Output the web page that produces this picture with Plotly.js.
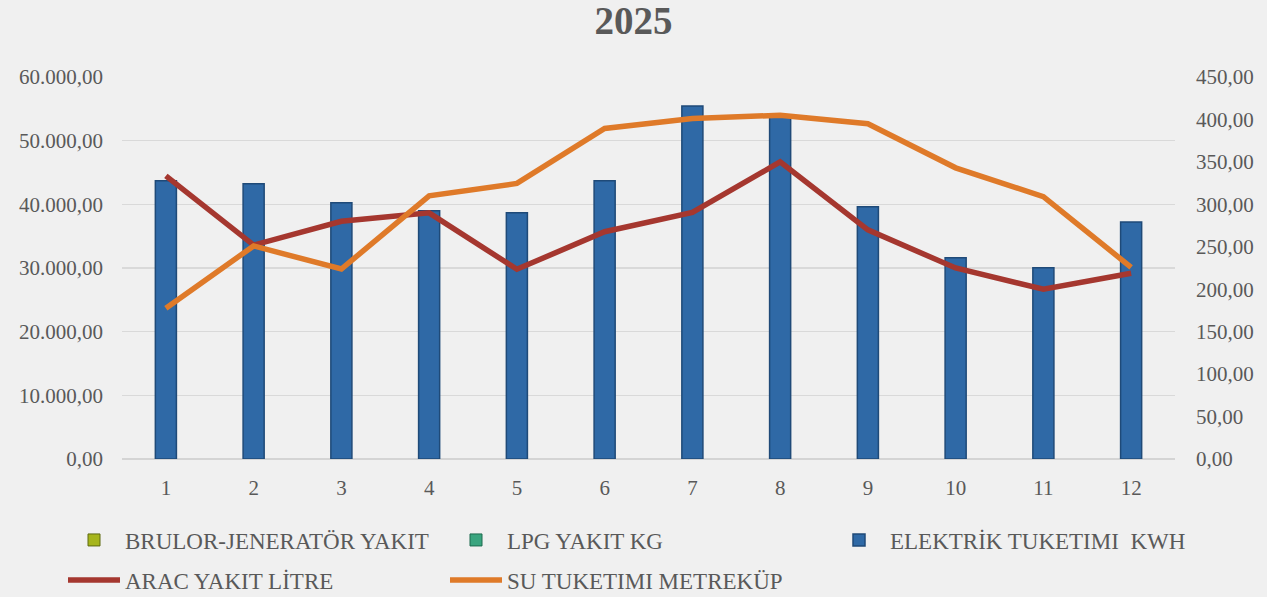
<!DOCTYPE html>
<html>
<head>
<meta charset="utf-8">
<script src="https://cdn.plot.ly/plotly-3.0.1.min.js"></script>
<style>
html,body{margin:0;padding:0;background:#f0f0f0;}
#chart{width:1267px;height:597px;}
</style>
</head>
<body>
<div id="chart"></div>
<script>
const months = ["1","2","3","4","5","6","7","8","9","10","11","12"];
const brulorYakit = [null,null,null,null,null,null,null,null,null,null,null,null];
const lpgYakit = [null,null,null,null,null,null,null,null,null,null,null,null];
const elektrikKwh = [43690,43220,40240,38990,38670,43690,55450,53900,39610,31620,30050,37210];
const aracYakit = [333.6,252,280,290,223.5,267.7,290.5,350,270,225,200,218.8];
const suTuketimi = [177.6,251,223.8,310,324.6,389.3,401,405,395,343,309,225.8];

const serif = "Liberation Serif, DejaVu Serif, serif";
const txt = '#595959';
const traces = [
  {type:'bar', name:'BRULOR-JENERATÖR YAKIT', x:months, y:brulorYakit, legend:'legend',
   marker:{color:'#a6b51c', line:{color:'#5e6a10', width:1}}, width:0.24},
  {type:'bar', name:'LPG YAKIT KG', x:months, y:lpgYakit, legend:'legend2',
   marker:{color:'#3aa57f', line:{color:'#1d6b4f', width:1}}, width:0.24},
  {type:'bar', name:'ELEKTRİK TUKETIMI  KWH', x:months, y:elektrikKwh, legend:'legend3',
   marker:{color:'#2f69a6', line:{color:'#1f4a78', width:1.5}}, width:0.24},
  {type:'scatter', mode:'lines', name:'ARAC YAKIT LİTRE', x:months, y:aracYakit, yaxis:'y2', legend:'legend4',
   line:{color:'#a5372f', width:5.5}},
  {type:'scatter', mode:'lines', name:'SU TUKETIMI METREKÜP', x:months, y:suTuketimi, yaxis:'y2', legend:'legend5',
   line:{color:'#df7a29', width:5.5}}
];

function leg(px, py){
  return {orientation:'h', xref:'container', yref:'container',
          x:px/1267, xanchor:'left', y:1-py/597, yanchor:'middle',
          font:{family:serif, size:23, color:txt}, itemwidth:52,
          bgcolor:'rgba(0,0,0,0)'};
}

const layout = {
  width:1267, height:597,
  paper_bgcolor:'#f0f0f0', plot_bgcolor:'#f0f0f0',
  separators:',.',
  margin:{l:122, r:92, t:77, b:138},
  title:{text:'<b>2025</b>', x:0.5, xref:'container', xanchor:'center', yref:'container', y:1-20/597, yanchor:'middle',
         font:{family:serif, size:39, color:txt}},
  barmode:'overlay',
  showlegend:true,
  legend:leg(63,540),
  legend2:leg(445,540),
  legend3:leg(828,540),
  legend4:leg(63,580),
  legend5:leg(445,580),
  xaxis:{type:'category', showgrid:false, zeroline:false, showline:false,
         ticks:'', tickfont:{family:serif, size:21, color:txt}, ticklabelstandoff:14},
  yaxis:{range:[0,60000], dtick:10000, tickformat:',.2f', showgrid:true,
         gridcolor:'#d9d9d9', gridwidth:1.5, zeroline:true, zerolinecolor:'#d4d4d4', zerolinewidth:2,
         tickfont:{family:serif, size:21, color:txt}, ticks:'', ticklabelstandoff:18},
  yaxis2:{range:[0,450], dtick:50, tickformat:',.2f', overlaying:'y', side:'right',
          showgrid:false, zeroline:false,
          tickfont:{family:serif, size:21, color:txt}, ticks:'', ticklabelstandoff:20}
};

Plotly.newPlot('chart', traces, layout, {displayModeBar:false, staticPlot:true});
</script>
</body>
</html>
